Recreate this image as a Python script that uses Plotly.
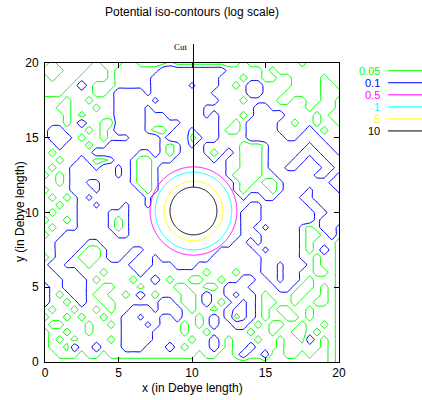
import numpy as np
import plotly.graph_objects as go

title_text = "Potential iso-contours (log scale)"
x_label = "x (in Debye length)"
y_label = "y (in Debye length)"
tick_vals = [0, 5, 10, 15, 20]

levels = [0.05, 0.1, 0.5, 1, 5, 10]
level_labels = ["0.05", "0.1", "0.5", "1", "5", "10"]
level_colors = ["#00ff00", "#0000ff", "#ff00ff", "#00ffff", "#ffff00", "#000000"]

# far field potential on a 0.5 grid, row 0 = y 20, row 40 = y 0
# 0: below 0.05, 1: between 0.05 and 0.1, 2: above 0.1
grid_step = 0.5
class_potential = {"0": 0.03, "1": 0.07, "2": 0.15}
field_rows = [
    "0100000100 0110000100 0000000100 0000010000 0",
    "1110001110 1111112222 2222211111 0100000000 0",
    "0100011110 1111122222 2222111011 0011000010 0",
    "0000121000 1111122222 1222110122 1111000011 0",
    "0001111001 2222122222 2221111122 1110000011 1",
    "1110110111 2222212222 2222111011 1100110011 0",
    "1100111011 2222122222 2211111112 2111110111 0",
    "1110101111 2222111222 2212111012 2221111010 0",
    "1110121100 2222111112 2222110122 2211011011 0",
    "1221110101 2222100122 1222100122 2211112101 1",
    "1222101101 1122221222 0122111122 2221122211 1",
    "1121110112 2222221012 1211111000 1222221221 1",
    "1011111222 2221121012 2210121000 1222211122 1",
    "1101121001 2210011122 2221211000 1222112112 2",
    "1011222122 1210012222 2222211000 1221122211 2",
    "0101222222 1210012222 2222210000 1122222112 1",
    "1101221122 2210012222 2222221001 0012222221 1",
    "0111222122 2221012222 2222221011 1012221222 1",
    "1010121222 2222122222 2222222122 1122211222 2",
    "1101122122 2122122222 2222222211 2222221122 2",
    "1011122221 1122222222 2222222111 2222222112 2",
    "0110122221 0122222222 2222222111 2222222122 2",
    "1011122221 0122222222 2222222112 1222210122 1",
    "0112222222 1122222222 2222222111 2222210012 1",
    "1122221122 2222222222 2222221121 2222210111 0",
    "1122210012 2211222222 2222111112 1222210121 0",
    "0122100012 2112212222 2221111111 2222211011 0",
    "1221110111 1122211122 2111111111 2212221011 0",
    "1122211101 1112111111 1101110111 2212211001 0",
    "1112221011 1101121011 0011011221 1212210111 0",
    "2112221100 1110111100 1100122211 1122100101 0",
    "2101221001 1012101110 0121121221 0111001101 0",
    "2110121100 1111112210 0121012121 0011011001 0",
    "1011011010 1122212221 0110121121 0100110111 0",
    "0110101101 1221221121 1012120121 0110010111 0",
    "1001110110 1222121110 1012112210 1001101101 0",
    "0110110111 1222211110 1101111101 1011001011 0",
    "0101011110 1222211111 0112101110 1101102101 0",
    "0110211211 1222111210 1112101121 1101111101 0",
    "0011101101 1111111111 1011001211 2001101001 0",
    "0000000000 0000000000 0000000000 0000000001 0",
]

# near field: radius (Debye lengths) at which each iso-potential circle sits
sphere_center = (10.1, 10.1)
radial_r = [0.0, 1.6, 2.0, 2.6, 2.95, 4.0]
radial_phi = [40.0, 10.0, 5.0, 1.0, 0.5, 0.15]
cut_label = "Cut"

# ---------------------------------------------------------------
rows = [r.replace(" ", "") for r in field_rows]
for r in rows:
    assert len(r) == 41, r
z_far = np.array([[class_potential[c] for c in r] for r in rows[::-1]])
xs = np.arange(41) * grid_step
ys = np.arange(41) * grid_step

cx, cy = sphere_center
fine = np.linspace(5.0, 15.2, 256)
FX, FY = np.meshgrid(fine, fine)
R = np.hypot(FX - cx, FY - cy)
z_near = 10 ** np.interp(R, radial_r, np.log10(radial_phi))

fig = go.Figure()
for lev, col in zip(levels, level_colors):
    far = lev < 0.2
    fig.add_trace(go.Contour(
        x=xs if far else fine, y=ys if far else fine, z=z_far if far else z_near,
        autocontour=False,
        contours=dict(start=lev, end=lev, size=1, coloring="none", showlabels=False),
        line=dict(color=col, width=1, smoothing=0.5 if far else 1.3),
        showscale=False, hoverinfo="skip", showlegend=False,
    ))

W, H = 422, 400
ml, mr, mt, mb = 45, 83, 63, 38
pw, ph = W - ml - mr, H - mt - mb

def px2paper(px, py):
    return (px - ml) / pw, (H - mb - py) / ph

font = "Liberation Sans, Arial, sans-serif"
axis = dict(range=[0, 20], tickvals=tick_vals, ticks="inside", ticklen=5, tickcolor="black",
            showline=True, linecolor="black", linewidth=1, mirror="allticks",
            showgrid=False, zeroline=False, tickfont=dict(size=12, color="black", family=font))

annotations = []
tx, ty = px2paper(0, 388)
annotations.append(dict(xref="paper", yref="paper", x=0.5, y=ty, text=x_label, showarrow=False,
                        font=dict(size=12, color="black", family=font), yanchor="middle"))
tx, ty = px2paper(20, 212)
annotations.append(dict(xref="paper", yref="paper", x=tx, y=ty, text=y_label, showarrow=False,
                        textangle=-90, font=dict(size=12, color="black", family=font),
                        xanchor="center", yanchor="middle"))
# cut line from the top of the sphere to above the frame
annotations.append(dict(xref="x", yref="y", axref="x", ayref="y", x=cx, y=cy + radial_r[1],
                        ax=cx, ay=21.37, text="", showarrow=True, arrowhead=0, arrowwidth=1,
                        arrowcolor="black", standoff=0, startstandoff=0))
tx, ty = px2paper(0, 47)
annotations.append(dict(xref="x", yref="paper", x=cx, y=ty, text=cut_label, showarrow=False,
                        xanchor="right", yanchor="middle", xshift=-3,
                        font=dict(size=9, color="black", family="Liberation Serif, Times New Roman, serif")))

shapes = []
for i, (lab, col) in enumerate(zip(level_labels, level_colors)):
    py = 70.7 + 12.05 * i
    lx, ly = px2paper(381, py)
    annotations.append(dict(xref="paper", yref="paper", x=lx, y=ly, text=lab, showarrow=False,
                            xanchor="right", yanchor="middle", borderpad=0, height=11,
                            font=dict(size=11, color=col, family=font)))
    x0, _ = px2paper(388, py)
    x1, _ = px2paper(432, py)
    shapes.append(dict(type="line", xref="paper", yref="paper", x0=x0, x1=x1, y0=ly, y1=ly,
                       line=dict(color=col, width=1)))

yaxis = dict(axis, ticklabelstandoff=3)
fig.update_layout(
    width=W, height=H, margin=dict(l=ml, r=mr, t=mt, b=mb, autoexpand=False),
    plot_bgcolor="white", paper_bgcolor="white",
    title=dict(text=title_text, x=192 / W, xanchor="center", y=1 - 12 / H, yanchor="middle",
               font=dict(size=12, color="black", family=font)),
    xaxis=axis, yaxis=yaxis, annotations=annotations, shapes=shapes, showlegend=False,
)
fig.write_html("out.html")
